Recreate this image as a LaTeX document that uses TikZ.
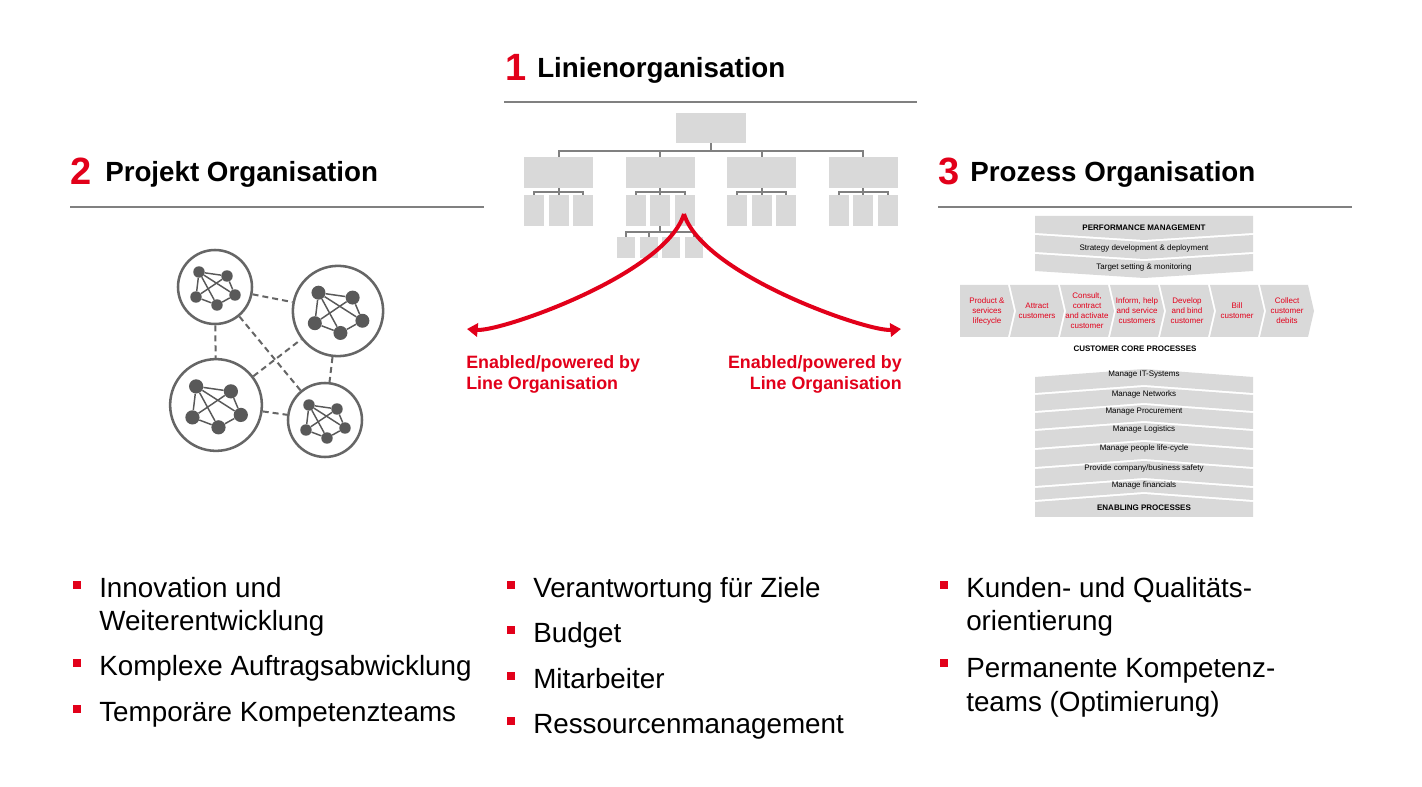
\documentclass[tikz,border=0pt]{standalone}
\usepackage{fontspec}
\setmainfont{Liberation Sans}
\usetikzlibrary{arrows.meta}

\definecolor{tred}{RGB}{226,0,26}
\definecolor{boxgray}{RGB}{217,217,217}
\definecolor{linegray}{RGB}{128,128,128}
\definecolor{circgray}{RGB}{102,102,102}
\definecolor{netgray}{RGB}{89,89,89}

% one project cluster: name, x, y, scale
\newcommand{\netcluster}[4]{%
  \begin{scope}[shift={(#2,#3)}]
    \node[cluster, minimum size=#4*55.5pt] (#1) at (0,0) {};
    \node[netdot, minimum size=#4*8.6pt] (#1tl) at (-16*#4,-15*#4) {};
    \node[netdot, minimum size=#4*8.6pt] (#1tr) at (12*#4,-11*#4) {};
    \node[netdot, minimum size=#4*8.6pt] (#1r) at (20*#4,8*#4) {};
    \node[netdot, minimum size=#4*8.6pt] (#1b) at (2*#4,18*#4) {};
    \node[netdot, minimum size=#4*8.6pt] (#1l) at (-19*#4,10*#4) {};
    \foreach \a/\b in {tl/tr,tl/l,tl/r,tl/b,tr/r,tr/l,r/b,b/l}
      \draw[netedge] (#1\a) -- (#1\b);
  \end{scope}}

\begin{document}
\begin{tikzpicture}[x=0.75pt, y=-0.75pt,
    num/.style={anchor=base west, inner sep=0pt, text=tred, font=\bfseries\fontsize{28.5}{30}\selectfont},
    head/.style={anchor=base west, inner sep=0pt, font=\bfseries\fontsize{20.8}{24}\selectfont},
    headrule/.style={draw=linegray, line width=1.5pt},
    orgtop/.style={fill=boxgray, inner sep=0pt, minimum width=52.5pt, minimum height=22.5pt},
    orgunit/.style={fill=boxgray, inner sep=0pt, minimum width=51.75pt, minimum height=23.25pt},
    orgsub/.style={fill=boxgray, inner sep=0pt, minimum width=15pt, minimum height=23.25pt},
    orgteam/.style={fill=boxgray, inner sep=0pt, minimum width=13.5pt, minimum height=15.75pt},
    conn/.style={draw=linegray, line width=1.5pt},
    enablearrow/.style={draw=tred, line width=3pt, -{Triangle[length=8pt,width=10pt]}},
    enabletext/.style={text=tred, inner sep=0pt, font=\bfseries\fontsize{13.4}{15.75}\selectfont},
    cluster/.style={circle, draw=circgray, line width=1.9pt, inner sep=0pt},
    netdot/.style={circle, fill=netgray, inner sep=0pt},
    netedge/.style={draw=netgray, line width=1.1pt},
    link/.style={draw=circgray, line width=1.5pt, dash pattern=on 4.5pt off 3pt},
    band/.style={fill=boxgray},
    proc/.style={inner sep=0pt, align=center, font=\fontsize{6}{7.5}\selectfont},
    chevlabel/.style={proc, text=tred},
    bullet/.style={fill=tred, inner sep=0pt, minimum size=6pt},
    itemtext/.style={anchor=base west, inner sep=0pt, align=left, font=\fontsize{20.85}{24.75}\selectfont}]

  \fill[white] (0,0) rectangle (1422,787);
  \useasboundingbox (0,0) rectangle (1422,787);

  % headings
  \node[num] (n1) at (505,81) {1};
  \node[head] (h1) at (537,78) {Linienorganisation};
  \draw[headrule] (504,102) -- (917,102);
  \node[num] (n2) at (70,185) {2};
  \node[head] (h2) at (105,182) {Projekt Organisation};
  \draw[headrule] (70,207) -- (484,207);
  \node[num] (n3) at (938,185) {3};
  \node[head] (h3) at (970,182) {Prozess Organisation};
  \draw[headrule] (938,207) -- (1352,207);

  % line organisation chart
  \node[orgtop] (top) at (711,128) {};
  \foreach \i/\x in {1/558.5,2/660,3/761.5,4/863} {
    \node[orgunit] (u\i) at (\x,172.5) {};
    \draw[conn] (top.south) -- ++(0,8) -| (u\i.north);
    \foreach \j/\dx in {1/-24.5,2/0,3/24.5} {
      \node[orgsub] (u\i\j) at (\x+\dx,210.5) {};
      \draw[conn] (u\i.south) -- ++(0,3.5) -| (u\i\j.north);
    }
  }
  \foreach \k/\x in {1/626,2/649,3/671,4/694} {
    \node[orgteam] (t\k) at (\x,247.5) {};
    \draw[conn] (u22.south) -- ++(0,6) -| (t\k.north);
  }

  % enabled by line organisation
  \coordinate (apex) at (684,214);
  \coordinate (leftend) at (467,329);
  \coordinate (rightend) at (901,329);
  \draw[enablearrow] (apex) .. controls (665,275) and (500,332) .. (leftend);
  \draw[enablearrow] (apex) .. controls (703,275) and (868,332) .. (rightend);
  \node[enabletext, anchor=base west, align=left] (enl) at (466,390) {Enabled/powered by\\Line Organisation};
  \node[enabletext, anchor=base east, align=right] (enr) at (902,390) {Enabled/powered by\\Line Organisation};

  % project clusters
  \netcluster{A}{215}{287}{1}
  \netcluster{B}{338}{311}{1.22}
  \netcluster{C}{216}{405}{1.24}
  \netcluster{D}{325}{420}{1}
  \draw[link] (A) -- (B);
  \draw[link] (A) -- (C);
  \draw[link] (A) -- (D);
  \draw[link] (C) -- (B);
  \draw[link] (C) -- (D);
  \draw[link] (B) -- (D);

  % performance management
  \fill[band] (1035,216) -- (1253,216) -- (1253,233) -- (1144,240) -- (1035,233) -- cycle;
  \foreach \t in {235,254}
    \fill[band] (1035,\t) -- (1144,\t+7) -- (1253,\t) -- (1253,\t+17) -- (1144,\t+24) -- (1035,\t+17) -- cycle;
  \node[proc, font=\bfseries\fontsize{6}{7.5}\selectfont] (pm1) at (1144,228) {PERFORMANCE MANAGEMENT};
  \node[proc] (pm2) at (1144,248.5) {Strategy development \& deployment};
  \node[proc] (pm3) at (1144,267.5) {Target setting \& monitoring};

  % customer core processes
  \fill[band] (960,285) -- (1008,285) -- (1014,311) -- (1008,337) -- (960,337) -- cycle;
  \foreach \i in {1,...,6}
    \fill[band] ({960+50*\i},285) -- ++(48,0) -- ++(6,26) -- ++(-6,26) -- ++(-48,0) -- ++(6,-26) -- cycle;
  \foreach \i/\txt in {0/{Product \&\\services\\lifecycle}, 1/{Attract\\customers},
      2/{Consult,\\contract\\and activate\\customer}, 3/{Inform, help\\and service\\customers},
      4/{Develop\\and bind\\customer}, 5/{Bill\\customer}, 6/{Collect\\customer\\debits}}
    \node[chevlabel] (c\i) at ({987+50*\i},311) {\txt};
  \node[proc, font=\bfseries\fontsize{6}{7.5}\selectfont] (core) at (1135,349) {CUSTOMER CORE PROCESSES};

  % enabling processes
  \foreach \s/\n in {377/395,395/413,413/431,431/450,450/469,469/488,488/502}
    \fill[band] (1035,\s) -- (1144,\s-8) -- (1253,\s) -- (1253,\n-2) -- (1144,\n-10) -- (1035,\n-2) -- cycle;
  \fill[band] (1035,502) -- (1144,494) -- (1253,502) -- (1253,517) -- (1035,517) -- cycle;
  \foreach \k/\y/\txt in {1/375/{Manage IT-Systems}, 2/394/{Manage Networks}, 3/412/{Manage Procurement},
      4/429/{Manage Logistics}, 5/448/{Manage people life-cycle}, 6/468/{Provide company/business safety},
      7/485/{Manage financials}}
    \node[proc] (e\k) at (1144,\y) {\txt};
  \node[proc, font=\bfseries\fontsize{6}{7.5}\selectfont] (e8) at (1144,508) {ENABLING PROCESSES};

  % bullet lists
  \node[bullet] (b21) at (77,585.5) {};
  \node[itemtext] (p21) at (99,631) {Innovation und\\Weiterentwicklung};
  \node[bullet] (b22) at (77,663.5) {};
  \node[itemtext] (p22) at (99,676) {Komplexe Auftragsabwicklung};
  \node[bullet] (b23) at (77,709.5) {};
  \node[itemtext] (p23) at (99,722) {Temporäre Kompetenzteams};

  \node[bullet] (b11) at (511,585.5) {};
  \node[itemtext] (p11) at (533,598) {Verantwortung für Ziele};
  \node[bullet] (b12) at (511,630.5) {};
  \node[itemtext] (p12) at (533,643) {Budget};
  \node[bullet] (b13) at (511,676.5) {};
  \node[itemtext] (p13) at (533,689) {Mitarbeiter};
  \node[bullet] (b14) at (511,721.5) {};
  \node[itemtext] (p14) at (533,734) {Ressourcenmanagement};

  \node[bullet] (b31) at (944,585.5) {};
  \node[itemtext] (p31) at (966,631) {Kunden- und Qualitäts-\\orientierung};
  \node[bullet] (b32) at (944,663.5) {};
  \node[itemtext] (p32) at (966,711) {Permanente Kompetenz-\\teams (Optimierung)};
\end{tikzpicture}
\end{document}
